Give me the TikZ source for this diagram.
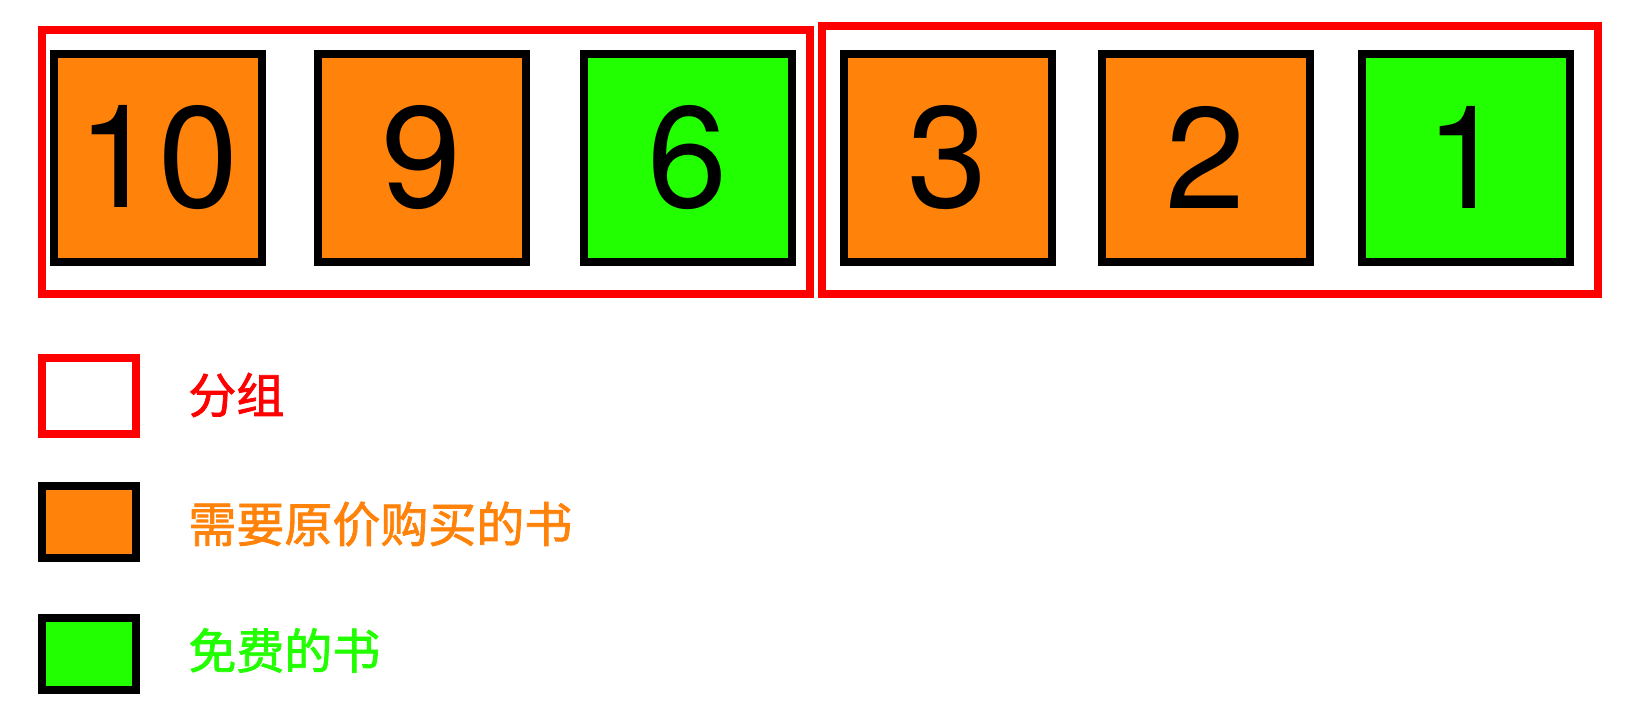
\documentclass[tikz,border=0pt]{standalone}
\usepackage{fontspec}
\setmainfont{TeX Gyre Heros}
\newfontfamily\cjk[FakeBold=1.6]{Noto Sans CJK SC}
\definecolor{bookorange}{RGB}{255,131,10}
\definecolor{bookgreen}{RGB}{33,255,0}
\definecolor{groupred}{RGB}{255,0,0}
\begin{document}
\begin{tikzpicture}[x=0.5pt,y=-0.5pt,
  book/.style={draw=black,line width=4pt,minimum width=104pt,minimum height=104pt,inner sep=0pt,font=\fontsize{72}{72}\selectfont},
  paybook/.style={book,fill=bookorange},
  freebook/.style={book,fill=bookgreen},
  groupbox/.style={draw=groupred,line width=4pt,inner sep=0pt},
  legendbox/.style={draw,line width=4pt,minimum width=47.25pt,inner sep=0pt},
  legendtext/.style={anchor=west,inner sep=0pt,font=\cjk\fontsize{24}{24}\selectfont}
]
\useasboundingbox (0,0) rectangle (1634,712);
% groups
\node[groupbox,minimum width=384pt,minimum height=131.85pt] (g1) at (425.7,161.85) {};
\node[groupbox,minimum width=387.6pt,minimum height=133.85pt] (g2) at (1209.9,159.85) {};
% books
\node[paybook] (b10) at (158,157.9) {10};
\node[paybook] (b9) at (422,157.9) {9};
\node[freebook] (b6) at (688,157.9) {6};
\node[paybook] (b3) at (948,157.9) {3};
\node[paybook] (b2) at (1206,157.9) {2};
\node[freebook] (b1) at (1466,157.9) {1};
% legend
\node[legendbox,draw=groupred,minimum height=38pt] (lg) at (89,396) {};
\node[legendbox,draw=black,fill=bookorange,minimum height=35.75pt] (lo) at (89,521.75) {};
\node[legendbox,draw=black,fill=bookgreen,minimum height=36pt] (lf) at (89,654) {};
\node[legendtext,text=groupred] (tg) at (188,395) {分组};
\node[legendtext,text=bookorange] (to) at (188,524) {需要原价购买的书};
\node[legendtext,text=bookgreen] (tf) at (188,650.5) {免费的书};
\end{tikzpicture}
\end{document}
